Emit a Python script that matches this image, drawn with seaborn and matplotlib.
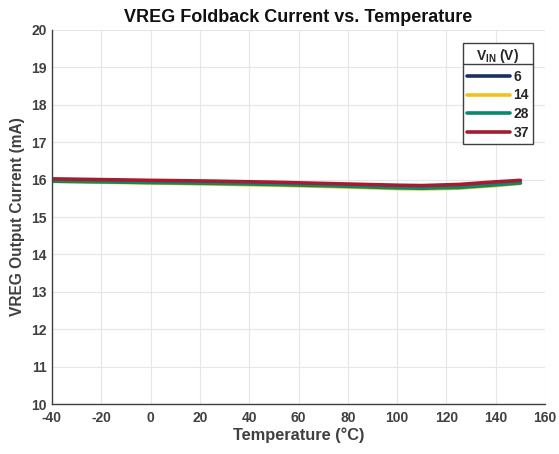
import matplotlib.pyplot as plt
import pandas as pd
import seaborn as sns
from matplotlib.lines import Line2D

temps = [-40, -20, 0, 25, 50, 75, 100, 110, 125, 140, 150]
vin_6 = [15.97, 15.95, 15.93, 15.91, 15.88, 15.84, 15.79, 15.78, 15.80, 15.87, 15.92]
vin_14 = [15.95, 15.93, 15.91, 15.88, 15.85, 15.81, 15.76, 15.75, 15.77, 15.84, 15.90]
vin_28 = [15.96, 15.94, 15.92, 15.90, 15.87, 15.83, 15.78, 15.77, 15.79, 15.86, 15.91]
vin_37 = [16.02, 16.00, 15.98, 15.96, 15.93, 15.89, 15.85, 15.84, 15.87, 15.94, 15.98]
vin_labels = ["6", "14", "28", "37"]
colors = ["#1b2f5e", "#f2c01e", "#0a8a6a", "#a51c30"]

xticks = list(range(-40, 161, 20))
yticks = list(range(10, 21))

sns.set_style("whitegrid")
plt.rcParams["font.family"] = ["Liberation Sans", "DejaVu Sans"]
plt.rcParams["axes.unicode_minus"] = False
plt.rcParams["mathtext.fontset"] = "custom"
plt.rcParams["mathtext.rm"] = "Liberation Sans:bold"
plt.rcParams["mathtext.bf"] = "Liberation Sans:bold"

frames = []
for lab, vals in zip(vin_labels, [vin_6, vin_14, vin_28, vin_37]):
    frames.append(pd.DataFrame({"temp": temps, "current": vals, "vin": lab}))
df = pd.concat(frames, ignore_index=True)

fig = plt.figure(figsize=(5.59, 4.54), dpi=100)
ax = fig.add_axes([0.093, 0.110, 0.882, 0.824])

sns.lineplot(data=df, x="temp", y="current", hue="vin", hue_order=vin_labels,
             palette=colors, linewidth=2.6, ax=ax, legend=False)

gray = "#404040"
ax.set_xlim(-40, 160)
ax.set_ylim(10, 20)
ax.set_xticks(xticks)
ax.set_yticks(yticks)
ax.tick_params(direction="in", length=4, width=0.8, color=gray, labelcolor=gray, labelsize=10)
ax.tick_params(axis="x", pad=5)
ax.tick_params(axis="y", pad=4)
for t in ax.get_xticklabels() + ax.get_yticklabels():
    t.set_fontweight("bold")
ax.grid(True, color="#e6e6e6", linewidth=0.8)
for side in ["top", "right"]:
    ax.spines[side].set_visible(False)
for side in ["left", "bottom"]:
    ax.spines[side].set_color(gray)
    ax.spines[side].set_linewidth(1.0)

ax.set_xlabel("Temperature (°C)", fontsize=11.8, fontweight="bold", color=gray, labelpad=2)
ax.set_ylabel("VREG Output Current (mA)", fontsize=11.2, fontweight="bold", color=gray, labelpad=4)
ax.set_title("VREG Foldback Current vs. Temperature", fontsize=13, fontweight="bold", color="#111111", pad=6)

handles = [Line2D([], [], color=c, linewidth=2.6) for c in colors]
leg = ax.legend(handles, vin_labels, title=r"V$_{\mathrm{IN}}$ (V)", loc="upper right",
                bbox_to_anchor=(0.976, 0.965), borderaxespad=0, frameon=True, fancybox=False,
                handlelength=3.1, handletextpad=0.25, labelspacing=0.33, borderpad=0.3,
                prop={"weight": "bold", "size": 10})
leg.get_title().set_fontweight("bold")
leg.get_title().set_fontsize(10)
leg.get_frame().set_edgecolor(gray)
leg.get_frame().set_linewidth(1.0)
leg.get_frame().set_alpha(1)

# separator line under the legend title
fig.canvas.draw()
lb = leg.get_window_extent()
tb = leg.get_title().get_window_extent()
inv = fig.transFigure.inverted()
(x0, y0), (x1, y1) = inv.transform([[lb.x0, tb.y0 + 1], [lb.x1, tb.y0 + 1]])
fig.add_artist(Line2D([x0, x1], [y0, y1], color=gray, linewidth=1.0))

fig.savefig("out.png", dpi=100)
